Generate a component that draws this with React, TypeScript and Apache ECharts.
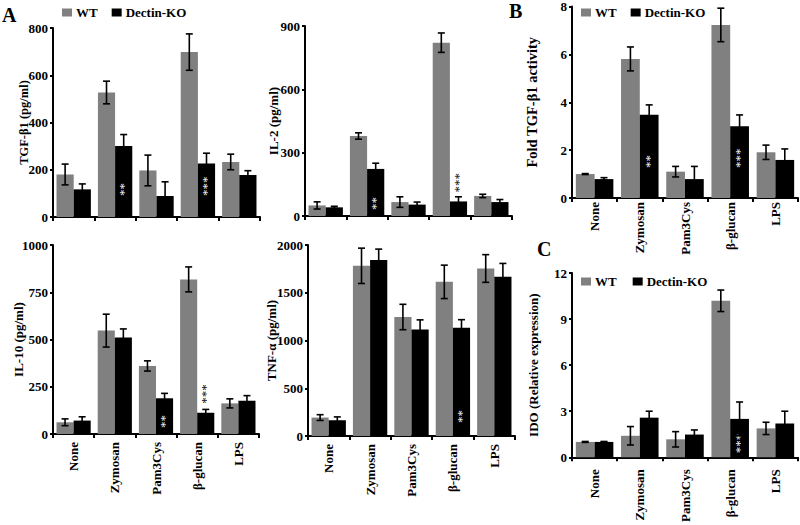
import React, { useEffect, useRef } from "react";
import * as echarts from "echarts";

const categories = ["None", "Zymosan", "Pam3Cys", "β-glucan", "LPS"];

// TGF-β1 (pg/ml)
const tgfWT = [180, 527, 197, 698, 233];
const tgfWTErr = [44, 48, 65, 77, 33];
const tgfKO = [117, 301, 89, 226, 178];
const tgfKOErr = [23, 48, 60, 44, 18];
const tgfSig = ["", "**", "", "***", ""];

// IL-2 (pg/ml)
const il2WT = [50, 379, 66, 821, 95];
const il2WTErr = [17, 15, 25, 46, 8];
const il2KO = [41, 223, 54, 69, 66];
const il2KOErr = [5, 27, 12, 22, 12];
const il2Sig = ["", "**", "", "***", ""];

// IL-10 (pg/ml)
const il10WT = [62, 547, 360, 818, 162];
const il10WTErr = [18, 87, 27, 66, 24];
const il10KO = [71, 511, 189, 113, 176];
const il10KOErr = [20, 45, 26, 17, 27];
const il10Sig = ["", "", "**", "***", ""];

// TNF-α (pg/ml)
const tnfWT = [193, 1782, 1246, 1614, 1754];
const tnfWTErr = [30, 185, 133, 175, 145];
const tnfKO = [165, 1842, 1116, 1133, 1667];
const tnfKOErr = [35, 115, 100, 85, 140];
const tnfSig = ["", "", "", "**", ""];

// Fold TGF-β1 activity
const foldWT = [1.0, 5.81, 1.1, 7.23, 1.91];
const foldWTErr = [0.02, 0.5, 0.22, 0.7, 0.3];
const foldKO = [0.79, 3.48, 0.79, 3.0, 1.59];
const foldKOErr = [0.06, 0.41, 0.53, 0.47, 0.46];
const foldSig = ["", "**", "", "***", ""];

// IDO (Relative expression)
const idoWT = [1.0, 1.4, 1.17, 10.19, 1.88];
const idoWTErr = [0.03, 0.6, 0.5, 0.7, 0.4];
const idoKO = [1.0, 2.58, 1.48, 2.5, 2.2];
const idoKOErr = [0.03, 0.42, 0.3, 1.1, 0.8];
const idoSig = ["", "", "", "***", ""];

const FONT = "'Liberation Serif', 'Times New Roman', serif";
const GRAY = "#808080";
const BLACK = "#000000";
const GAP = 0.17;

type Panel = {
  name: string;
  wt: number[];
  wtErr: number[];
  ko: number[];
  koErr: number[];
  sig: string[];
  max: number;
  interval: number;
  grid: { left: number; top: number; width: number; height: number };
  nameGap: number;
  nameSize: number;
  showCats: boolean;
  catMargin: number;
  sigDist: number;
  sigAbove: number[];
};

const panels: Panel[] = [
  {
    name: "TGF-β1 (pg/ml)", wt: tgfWT, wtErr: tgfWTErr, ko: tgfKO, koErr: tgfKOErr, sig: tgfSig,
    max: 800, interval: 200, grid: { left: 53, top: 28, width: 207, height: 189 },
    nameGap: 23, nameSize: 12.5, showCats: false, catMargin: 8, sigDist: 21, sigAbove: [],
  },
  {
    name: "IL-2 (pg/ml)", wt: il2WT, wtErr: il2WTErr, ko: il2KO, koErr: il2KOErr, sig: il2Sig,
    max: 900, interval: 300, grid: { left: 305, top: 26, width: 207, height: 190 },
    nameGap: 25, nameSize: 13, showCats: false, catMargin: 8, sigDist: 6, sigAbove: [3],
  },
  {
    name: "IL-10 (pg/ml)", wt: il10WT, wtErr: il10WTErr, ko: il10KO, koErr: il10KOErr, sig: il10Sig,
    max: 1000, interval: 250, grid: { left: 53, top: 245, width: 206, height: 189 },
    nameGap: 28, nameSize: 13, showCats: true, catMargin: 8, sigDist: 6, sigAbove: [3],
  },
  {
    name: "TNF-α (pg/ml)", wt: tnfWT, wtErr: tnfWTErr, ko: tnfKO, koErr: tnfKOErr, sig: tnfSig,
    max: 2000, interval: 500, grid: { left: 308, top: 245, width: 207, height: 191 },
    nameGap: 30, nameSize: 13, showCats: true, catMargin: 8, sigDist: 13, sigAbove: [],
  },
  {
    name: "Fold TGF-β1 activity", wt: foldWT, wtErr: foldWTErr, ko: foldKO, koErr: foldKOErr, sig: foldSig,
    max: 8, interval: 2, grid: { left: 572, top: 6, width: 226, height: 192 },
    nameGap: 33, nameSize: 14.5, showCats: true, catMargin: 4, sigDist: 30, sigAbove: [],
  },
  {
    name: "IDO (Relative expression)", wt: idoWT, wtErr: idoWTErr, ko: idoKO, koErr: idoKOErr, sig: idoSig,
    max: 12, interval: 3, grid: { left: 572, top: 273, width: 226, height: 188 },
    nameGap: 32, nameSize: 13, showCats: true, catMargin: 12, sigDist: 4, sigAbove: [],
  },
];

function errRenderer(side: number) {
  return (params: any, api: any) => {
    const i = api.value(0);
    const v = api.value(1);
    const e = api.value(2);
    const catW = api.size([1, 0])[0];
    const off = side * catW * (1 - GAP) * 0.25;
    const top = api.coord([i, v + e]);
    const bot = api.coord([i, Math.max(v - e, 0)]);
    const x = top[0] + off;
    const st = { stroke: "#000", lineWidth: 1.6 };
    const cw = 3.5;
    return {
      type: "group",
      children: [
        { type: "line", shape: { x1: x, y1: top[1], x2: x, y2: bot[1] }, style: st },
        { type: "line", shape: { x1: x - cw, y1: top[1], x2: x + cw, y2: top[1] }, style: st },
        { type: "line", shape: { x1: x - cw, y1: bot[1], x2: x + cw, y2: bot[1] }, style: st },
      ],
    };
  };
}

function buildOption() {
  const grids: any[] = [];
  const xAxes: any[] = [];
  const yAxes: any[] = [];
  const series: any[] = [];

  panels.forEach((p, k) => {
    grids.push({ ...p.grid, containLabel: false });
    xAxes.push({
      type: "category",
      gridIndex: k,
      data: categories,
      axisLine: { lineStyle: { color: "#000", width: 2 } },
      axisTick: { show: true, alignWithLabel: false, length: 4, lineStyle: { color: "#000", width: 2 } },
      axisLabel: {
        show: p.showCats,
        rotate: 90,
        margin: p.catMargin,
        interval: 0,
        fontFamily: FONT,
        fontWeight: "bold",
        fontSize: 13,
        color: "#000",
      },
    });
    yAxes.push({
      type: "value",
      gridIndex: k,
      min: 0,
      max: p.max,
      interval: p.interval,
      name: p.name,
      nameLocation: "middle",
      nameGap: p.nameGap,
      nameMoveOverlap: false,
      nameTextStyle: { fontFamily: FONT, fontWeight: "bold", fontSize: p.nameSize, color: "#000" },
      splitLine: { show: false },
      axisLine: { show: true, lineStyle: { color: "#000", width: 2 } },
      axisTick: { show: true, length: 3, lineStyle: { color: "#000", width: 2 } },
      axisLabel: {
        fontFamily: FONT,
        fontWeight: "bold",
        fontSize: 13,
        color: "#000",
        margin: 5,
        formatter: (v: number) => String(v),
      },
    });

    series.push({
      type: "bar",
      name: "WT",
      xAxisIndex: k,
      yAxisIndex: k,
      data: p.wt,
      barGap: "0%",
      barCategoryGap: GAP * 100 + "%",
      itemStyle: { color: GRAY },
    });
    series.push({
      type: "bar",
      name: "Dectin-KO",
      xAxisIndex: k,
      yAxisIndex: k,
      barGap: "0%",
      barCategoryGap: GAP * 100 + "%",
      itemStyle: { color: BLACK },
      data: p.ko.map((v, i) => {
        const s = p.sig[i];
        const above = p.sigAbove.indexOf(i) >= 0;
        return {
          value: v,
          label: {
            show: s !== "",
            formatter: s,
            position: above ? "top" : "insideBottom",
            distance: above ? 9 : p.sigDist,
            rotate: 90,
            align: "left",
            verticalAlign: "middle",
            color: above ? "#000" : "#fff",
            fontFamily: FONT,
            fontSize: 13,
          },
        };
      }),
    });
    series.push({
      type: "custom",
      name: "errWT" + k,
      xAxisIndex: k,
      yAxisIndex: k,
      z: 5,
      clip: false,
      renderItem: errRenderer(-1),
      encode: { x: 0, y: 1 },
      data: p.wt.map((v, i) => [i, v, p.wtErr[i]]),
    });
    series.push({
      type: "custom",
      name: "errKO" + k,
      xAxisIndex: k,
      yAxisIndex: k,
      z: 5,
      clip: false,
      renderItem: errRenderer(1),
      encode: { x: 0, y: 1 },
      data: p.ko.map((v, i) => [i, v, p.koErr[i]]),
    });
  });

  const legendBase = {
    data: ["WT", "Dectin-KO"],
    icon: "rect",
    itemWidth: 10,
    itemHeight: 8,
    itemGap: 14,
    padding: 0,
    orient: "horizontal",
    selectedMode: false,
    textStyle: { fontFamily: FONT, fontWeight: "bold", fontSize: 13, color: "#000", padding: [0, 0, 0, -1] },
  };

  const letter = (t: string, x: number, y: number) => ({
    type: "text",
    left: x,
    top: y,
    style: { text: t, fontFamily: FONT, fontWeight: "bold", fontSize: 20, fill: "#000" },
  });

  return {
    animation: false,
    backgroundColor: "#fff",
    grid: grids,
    xAxis: xAxes,
    yAxis: yAxes,
    series,
    legend: [
      { ...legendBase, left: 62, top: 6 },
      { ...legendBase, left: 581, top: 6 },
      { ...legendBase, left: 581, top: 275, itemGap: 16 },
    ],
    graphic: [letter("A", 2, 5), letter("B", 509, 1), letter("C", 537, 239)],
  };
}

export default function App() {
  const ref = useRef<HTMLDivElement>(null);
  useEffect(() => {
    if (!ref.current) return;
    const chart = echarts.init(ref.current, undefined, { renderer: "svg" });
    chart.setOption(buildOption() as any);
    return () => chart.dispose();
  }, []);
  return (
    <div
      ref={ref}
      style={{ position: "fixed", left: 0, top: 0, width: 800, height: 525, background: "#fff" }}
    />
  );
}
